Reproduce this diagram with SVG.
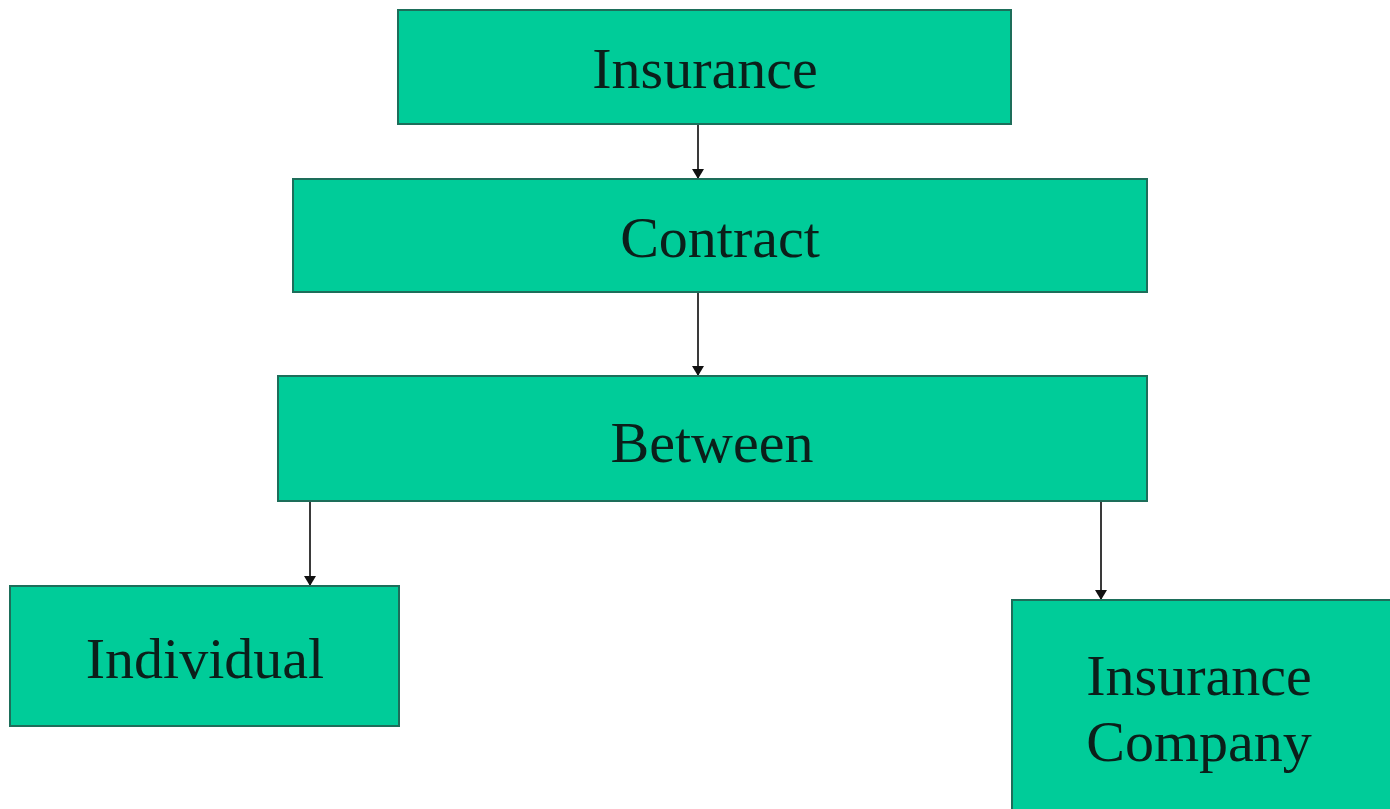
<svg xmlns="http://www.w3.org/2000/svg" width="1390" height="809" viewBox="0 0 1390 809">
  <style>
    .box { fill: #00cc99; stroke: #1d6e5a; stroke-width: 2; }
    .label { font-family: "Liberation Serif", "Times New Roman", serif; font-size: 58px; fill: #0b1f1a; text-anchor: middle; }
    .link { stroke: #3a3a3a; stroke-width: 2; fill: none; marker-end: url(#arrow); }
  </style>
  <defs>
    <marker id="arrow" viewBox="0 0 10 12" refX="10" refY="6" markerWidth="10" markerHeight="12" markerUnits="userSpaceOnUse" orient="auto">
      <path d="M0,0 L10,6 L0,12 Z" fill="#111"/>
    </marker>
  </defs>
  <rect width="1390" height="809" fill="#ffffff"/>

  <g id="connectors">
    <line class="link" x1="698" y1="124" x2="698" y2="179"/>
    <line class="link" x1="698" y1="292" x2="698" y2="376"/>
    <line class="link" x1="310" y1="501" x2="310" y2="586"/>
    <line class="link" x1="1101" y1="501" x2="1101" y2="600"/>
  </g>

  <g id="node-insurance">
    <rect class="box" x="398" y="10" width="613" height="114"/>
    <text class="label" x="705" y="88">Insurance</text>
  </g>

  <g id="node-contract">
    <rect class="box" x="293" y="179" width="854" height="113"/>
    <text class="label" x="720" y="257">Contract</text>
  </g>

  <g id="node-between">
    <rect class="box" x="278" y="376" width="869" height="125"/>
    <text class="label" x="712" y="462">Between</text>
  </g>

  <g id="node-individual">
    <rect class="box" x="10" y="586" width="389" height="140"/>
    <text class="label" x="205" y="678">Individual</text>
  </g>

  <g id="node-insurance-company">
    <rect class="box" x="1012" y="600" width="390" height="220"/>
    <text class="label" x="1199" y="695">Insurance</text>
    <text class="label" x="1199" y="761">Company</text>
  </g>
</svg>
